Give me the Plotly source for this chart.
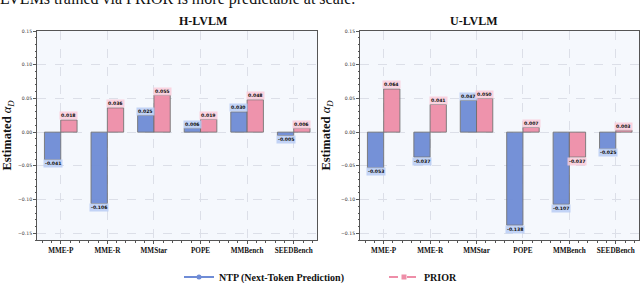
import plotly.graph_objects as go

benchmarks = ["MME-P", "MME-R", "MMStar", "POPE", "MMBench", "SEEDBench"]
h_ntp = [-0.041, -0.106, 0.025, 0.006, 0.030, -0.005]
h_prior = [0.018, 0.036, 0.055, 0.019, 0.048, 0.006]
u_ntp = [-0.053, -0.037, 0.047, -0.138, -0.107, -0.025]
u_prior = [0.064, 0.041, 0.050, 0.007, -0.037, 0.003]
panel_titles = ["H-LVLM", "U-LVLM"]
series_names = ["NTP (Next-Token Prediction)", "PRIOR"]
y_ticks = [-0.15, -0.10, -0.05, 0.00, 0.05, 0.10, 0.15]

BLUE = "#6f8cd6"
PINK = "#ee8ea8"
BLUE_BG = "rgba(185,205,245,0.85)"
PINK_BG = "rgba(250,205,218,0.85)"
SERIF = "Liberation Serif, Times New Roman, serif"
SANS = "DejaVu Sans, sans-serif"

xpos = list(range(len(benchmarks)))
fig = go.Figure()

panels = [(h_ntp, h_prior, "x", "y"), (u_ntp, u_prior, "x2", "y2")]
annotations = []
for (ntp, prior, xa, ya) in panels:
    for vals, color, bg, off in [(ntp, BLUE, BLUE_BG, -0.175), (prior, PINK, PINK_BG, 0.175)]:
        fig.add_trace(go.Bar(
            x=xpos, y=vals, xaxis=xa, yaxis=ya, showlegend=False,
            marker=dict(color=color, opacity=0.95, line=dict(color="#6e6e6e", width=0.9)),
            hoverinfo="skip"))
        for i, v in enumerate(vals):
            annotations.append(dict(
                x=i + off, y=v, xref=xa, yref=ya, text=f"<b>{v:.3f}</b>",
                showarrow=False, font=dict(family=SANS, size=4.6, color="#111"),
                bgcolor=bg, borderpad=1, yanchor="middle",
                yshift=4 if v >= 0 else -4))

# legend entries
fig.add_trace(go.Scatter(x=[None], y=[None], mode="lines+markers", name=series_names[0],
                         line=dict(color=BLUE, width=2), marker=dict(symbol="circle", size=5, color=BLUE)))
fig.add_trace(go.Scatter(x=[None], y=[None], mode="lines+markers", name=series_names[1],
                         line=dict(color=PINK, width=2, dash="dash"), marker=dict(symbol="square", size=5, color=PINK)))

top, bot = 1 - 31 / 283, 1 - 240 / 283
doms = [(37 / 640, 317 / 640), (360 / 640, 639 / 640)]

axis_common_x = dict(
    range=[-0.51, 5.5], tickvals=xpos, ticktext=[f"<b>{b}</b>" for b in benchmarks],
    tickfont=dict(family=SERIF, size=7.2, color="#111"),
    showgrid=True, gridcolor="#dcdfe8", griddash="dash", gridwidth=0.7,
    showline=True, linecolor="#555", linewidth=1, mirror=True,
    ticks="outside", ticklen=3, tickcolor="#555",
    minor=dict(dtick=0.2, ticks="outside", ticklen=1.5, tickcolor="#555", showgrid=False),
    zeroline=False, automargin=False)
axis_common_y = dict(
    range=[-0.16, 0.15], tickvals=y_ticks, tickformat=".2f",
    tickfont=dict(family=SANS, size=4.6, color="#333"),
    showgrid=True, gridcolor="#dcdfe8", griddash="dash", gridwidth=0.7,
    showline=True, linecolor="#555", linewidth=1, mirror=True,
    ticks="outside", ticklen=3, tickcolor="#555",
    minor=dict(dtick=0.01, ticks="outside", ticklen=1.5, tickcolor="#555", showgrid=False),
    zeroline=False, automargin=False,
    title=dict(text="<b>Estimated </b><i>α<sub>D</sub></i>", font=dict(family=SERIF, size=12.5, color="#111"), standoff=7))

fig.update_layout(
    xaxis=dict(axis_common_x, domain=doms[0], anchor="y"),
    yaxis=dict(axis_common_y, domain=[bot, top], anchor="x"),
    xaxis2=dict(axis_common_x, domain=doms[1], anchor="y2"),
    yaxis2=dict(axis_common_y, domain=[bot, top], anchor="x2"),
)

for k, (d0, d1) in enumerate(doms):
    annotations.append(dict(x=(d0 + d1) / 2, y=top, xref="paper", yref="paper", yanchor="bottom",
                            text=f"<b>{panel_titles[k]}</b>", showarrow=False, yshift=1,
                            font=dict(family=SERIF, size=12, color="#111")))

annotations.append(dict(x=-2 / 640, y=1 + 12 / 283, xref="paper", yref="paper", xanchor="left", yanchor="top",
                        text="LVLMs trained via PRIOR is more predictable at scale.", showarrow=False,
                        font=dict(family=SERIF, size=16, color="#111")))

fig.update_layout(
    width=640, height=283, margin=dict(l=0, r=0, t=0, b=0, autoexpand=False),
    paper_bgcolor="white", plot_bgcolor="#f5f8fd",
    barmode="group", bargap=0.3, bargroupgap=0,
    annotations=annotations,
    legend=dict(orientation="h", x=179 / 640, y=1 - 277 / 283, xanchor="left", yanchor="middle",
                font=dict(family=SERIF, size=10, color="#111"), entrywidth=160, entrywidthmode="pixels",
                bgcolor="rgba(0,0,0,0)"),
    legend_font_weight="bold",
)

fig.write_html("out.html", config={"displayModeBar": False},
               post_script="document.body.style.margin='0px';document.body.style.overflow='hidden';")
